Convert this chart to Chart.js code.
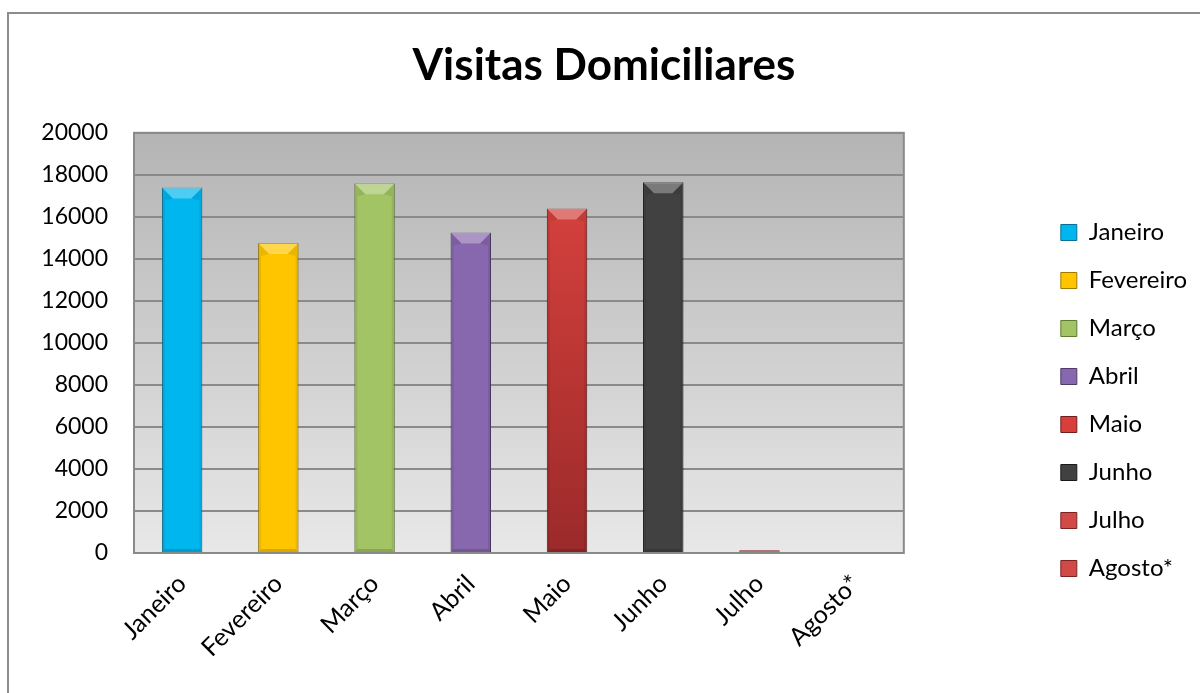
<!DOCTYPE html>
<html>
<head>
<meta charset="utf-8">
<script src="https://cdn.jsdelivr.net/npm/chart.js@4/dist/chart.umd.min.js"></script>
<style>
  html, body { margin: 0; padding: 0; background: #fff; }
  #wrap { width: 1200px; height: 693px; }
</style>
</head>
<body>
<div id="wrap"><canvas id="visitasChart" width="1200" height="693"></canvas></div>
<script>
// Chart data
const months = ['Janeiro', 'Fevereiro', 'Março', 'Abril', 'Maio', 'Junho', 'Julho', 'Agosto*'];
const visits = [17400, 14750, 17600, 15250, 16400, 17650, 130, 0];
const monthColors = ['#00b6ef', '#ffc600', '#a3c464', '#8767ad', '#d83f3b', '#414141', '#d24a48', '#d24a48'];
const monthBorders = ['#0a6f91', '#9e7a00', '#5f7a33', '#4e3b68', '#6e1f1f', '#1a1a1a', '#7a2323', '#7a2323'];
const yTicks = [0, 2000, 4000, 6000, 8000, 10000, 12000, 14000, 16000, 18000, 20000];

const FONT = 'Lato, "Open Sans", sans-serif';

// Outer frame + gradient plot background
const backgroundPlugin = {
    id: 'backgroundPlugin',
    afterLayout(chart) {
        // push legend items to where Excel put them
        chart.legend.top += 48;
        chart.legend.bottom += 48;
        chart.legend.left -= 3;
        chart.legend.right -= 3;
    },
    beforeDraw(chart) {
        const { ctx, chartArea } = chart;
        ctx.save();
        ctx.fillStyle = '#fff';
        ctx.fillRect(0, 0, chart.width, chart.height);
        ctx.strokeStyle = '#8c8c8c';
        ctx.lineWidth = 2;
        ctx.strokeRect(8, 13, chart.width + 20, chart.height + 20);
        const g = ctx.createLinearGradient(0, chartArea.top, 0, chartArea.bottom);
        g.addColorStop(0, '#b4b4b4');
        g.addColorStop(1, '#e8e8e8');
        ctx.fillStyle = g;
        ctx.fillRect(chartArea.left, chartArea.top, chartArea.right - chartArea.left, chartArea.bottom - chartArea.top);
        ctx.strokeStyle = '#8a8a8a';
        ctx.lineWidth = 2;
        ctx.strokeRect(chartArea.left, chartArea.top, chartArea.right - chartArea.left, chartArea.bottom - chartArea.top);
        ctx.restore();
    }
};

// Bevel look on each bar (top facet mainly)
const bevelPlugin = {
    id: 'bevelPlugin',
    afterDatasetsDraw(chart) {
        const { ctx } = chart;
        const meta = chart.getDatasetMeta(0);
        ctx.save();
        meta.data.forEach(bar => {
            const { x, y, base, width } = bar.getProps(['x', 'y', 'base', 'width'], true);
            const h = base - y;
            if (h < 4) return;
            const l = x - width / 2, r = x + width / 2;
            const b = Math.min(11, h / 2);
            const s = 3;
            ctx.fillStyle = 'rgba(255,255,255,0.3)';
            ctx.beginPath();
            ctx.moveTo(l, y); ctx.lineTo(r, y); ctx.lineTo(r - b, y + b); ctx.lineTo(l + b, y + b);
            ctx.closePath(); ctx.fill();
            ctx.fillStyle = 'rgba(0,0,0,0.08)';
            ctx.beginPath();
            ctx.moveTo(l, y); ctx.lineTo(l + b, y + b); ctx.lineTo(l + s, y + b + 2); ctx.lineTo(l + s, base - s); ctx.lineTo(l, base);
            ctx.closePath(); ctx.fill();
            ctx.beginPath();
            ctx.moveTo(r, y); ctx.lineTo(r - b, y + b); ctx.lineTo(r - s, y + b + 2); ctx.lineTo(r - s, base - s); ctx.lineTo(r, base);
            ctx.closePath(); ctx.fill();
            ctx.fillStyle = 'rgba(0,0,0,0.15)';
            ctx.beginPath();
            ctx.moveTo(l, base); ctx.lineTo(l + s, base - s); ctx.lineTo(r - s, base - s); ctx.lineTo(r, base);
            ctx.closePath(); ctx.fill();
        });
        ctx.restore();
    }
};

function barColor(context) {
    const i = context.dataIndex;
    const area = context.chart.chartArea;
    if (months[i] === 'Maio' && area) {
        const g = context.chart.ctx.createLinearGradient(0, area.top, 0, area.bottom);
        g.addColorStop(0, '#e04540');
        g.addColorStop(1, '#9b2a2a');
        return g;
    }
    return monthColors[i];
}

const ctx = document.getElementById('visitasChart').getContext('2d');
new Chart(ctx, {
    type: 'bar',
    data: {
        labels: months,
        datasets: [{
            label: 'Visitas',
            data: visits,
            backgroundColor: barColor,
            borderColor: monthBorders,
            borderWidth: 1,
            barPercentage: 0.42,
            categoryPercentage: 1
        }]
    },
    options: {
        responsive: false,
        animation: false,
        layout: { padding: { top: 12, left: 8, right: 0, bottom: 0 } },
        plugins: {
            title: {
                display: true,
                text: 'Visitas Domiciliares',
                color: '#000',
                font: { family: FONT, size: 44, weight: 'bold' },
                padding: { top: 27, bottom: 41 }
            },
            legend: {
                position: 'right',
                align: 'center',
                labels: {
                    color: '#000',
                    font: { family: FONT, size: 24 },
                    boxWidth: 16,
                    boxHeight: 16,
                    padding: 24,
                    generateLabels: () => months.map((m, i) => ({
                        text: m,
                        fillStyle: monthColors[i],
                        strokeStyle: monthBorders[i],
                        lineWidth: 1,
                        index: i
                    }))
                }
            },
            tooltip: { enabled: false }
        },
        scales: {
            x: {
                grid: { display: false, drawTicks: false },
                border: { display: true, color: '#8a8a8a', width: 2 },
                ticks: {
                    color: '#000',
                    font: { family: FONT, size: 25 },
                    minRotation: 45,
                    maxRotation: 45,
                    padding: 16
                },
                afterFit: s => { s.height = 140; }
            },
            y: {
                min: 0,
                max: 20000,
                grid: { color: '#8a8a8a', lineWidth: 2, drawTicks: false },
                border: { display: true, color: '#8a8a8a', width: 2 },
                ticks: {
                    color: '#000',
                    font: { family: FONT, size: 23 },
                    stepSize: 2000,
                    padding: 26,
                    callback: v => yTicks.includes(v) ? String(v) : ''
                },
                afterFit: s => { s.width = 126; }
            },
            spacer: {
                position: 'right',
                display: true,
                grid: { display: false, drawTicks: false },
                border: { display: false },
                ticks: { display: false },
                afterFit: s => { s.width = 136; }
            }
        }
    },
    plugins: [backgroundPlugin, bevelPlugin]
});
</script>
</body>
</html>
